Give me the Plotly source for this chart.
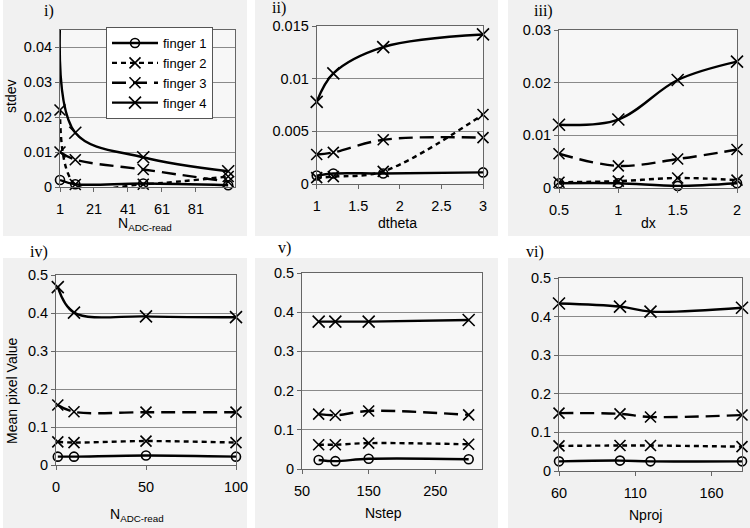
import plotly.graph_objects as go

# ---------------- data ----------------
fingers = ["finger 1", "finger 2", "finger 3", "finger 4"]

# panel i: stdev vs N_ADC-read
n_adc = [1, 10, 50, 100]
i_f1 = [0.0020, 0.0008, 0.0010, 0.0005]
i_f2 = [0.0220, 0.0007, 0.0008, 0.0030]
i_f3 = [0.0100, 0.0078, 0.0050, 0.0015]
i_f4 = [0.0470, 0.0155, 0.0085, 0.0045]

# panel ii: stdev vs dtheta
dtheta = [1, 1.2, 1.8, 3]
ii_f1 = [0.0008, 0.0010, 0.0010, 0.0011]
ii_f2 = [0.0006, 0.0007, 0.0012, 0.0066]
ii_f3 = [0.0028, 0.0030, 0.0042, 0.0044]
ii_f4 = [0.0078, 0.0105, 0.0130, 0.0142]

# panel iii: stdev vs dx
dx = [0.5, 1, 1.5, 2]
iii_f1 = [0.0009, 0.0009, 0.0004, 0.0009]
iii_f2 = [0.0011, 0.0013, 0.0019, 0.0015]
iii_f3 = [0.0065, 0.0042, 0.0055, 0.0073]
iii_f4 = [0.0120, 0.0130, 0.0205, 0.0240]

# panel iv: mean pixel value vs N_ADC-read
iv_f1 = [0.022, 0.022, 0.025, 0.022]
iv_f2 = [0.061, 0.059, 0.063, 0.059]
iv_f3 = [0.158, 0.140, 0.139, 0.139]
iv_f4 = [0.468, 0.401, 0.391, 0.389]

# panel v: mean pixel value vs Nstep
nstep = [75, 100, 150, 300]
v_f1 = [0.023, 0.020, 0.026, 0.025]
v_f2 = [0.062, 0.062, 0.066, 0.063]
v_f3 = [0.140, 0.137, 0.148, 0.138]
v_f4 = [0.376, 0.376, 0.376, 0.380]

# panel vi: mean pixel value vs Nproj
nproj = [60, 100, 120, 180]
vi_f1 = [0.025, 0.027, 0.025, 0.025]
vi_f2 = [0.065, 0.066, 0.066, 0.063]
vi_f3 = [0.150, 0.148, 0.140, 0.145]
vi_f4 = [0.434, 0.426, 0.413, 0.423]

panels = [
    dict(x=n_adc, ys=[i_f1, i_f2, i_f3, i_f4], xr=[1, 104], yr=[0, 0.045], xt=[1, 21, 41, 61, 81], dy=0.01),
    dict(x=dtheta, ys=[ii_f1, ii_f2, ii_f3, ii_f4], xr=[1, 3], yr=[0, 0.015], xt=[1, 1.5, 2, 2.5, 3], dy=0.005),
    dict(x=dx, ys=[iii_f1, iii_f2, iii_f3, iii_f4], xr=[0.5, 2], yr=[0, 0.03], xt=[0.5, 1, 1.5, 2], dy=0.01),
    dict(x=n_adc, ys=[iv_f1, iv_f2, iv_f3, iv_f4], xr=[0, 100], yr=[0, 0.5], xt=[0, 50, 100], dy=0.1),
    dict(x=nstep, ys=[v_f1, v_f2, v_f3, v_f4], xr=[50, 320], yr=[0, 0.5], xt=[50, 150, 250], dy=0.1),
    dict(x=nproj, ys=[vi_f1, vi_f2, vi_f3, vi_f4], xr=[60, 180], yr=[0, 0.5], xt=[60, 110, 160], dy=0.1),
]

# ---------------- layout geometry (pixels) ----------------
W, H = 750, 528
boxes = [  # left, right, top, bottom of each plot area
    (60, 235, 29.5, 187),
    (316.7, 483, 26, 184),
    (559, 737, 30, 188),
    (56, 236, 275, 465),
    (302, 482, 273, 469),
    (559, 742, 278, 471),
]

styles = [
    dict(dash="solid", symbol="circle-open", size=9),
    dict(dash="5px,4px", symbol="x-thin", size=11),
    dict(dash="14px,7px", symbol="x-thin", size=11),
    dict(dash="solid", symbol="x-thin", size=12),
]

fig = go.Figure()
TICKFONT = dict(family="Liberation Sans, Arial, sans-serif", size=14.5, color="black")

for k, p in enumerate(panels):
    ax = "" if k == 0 else str(k + 1)
    for j, yv in enumerate(p["ys"]):
        st = styles[j]
        clip = (k == 0 and j == 3)  # finger 4 in panel i runs off the top
        fig.add_trace(go.Scatter(
            x=p["x"], y=yv, mode="lines+markers", name=fingers[j],
            legendgroup=fingers[j], showlegend=(k == 0),
            xaxis="x" + ax, yaxis="y" + ax,
            line=dict(color="black", width=2.4, dash=st["dash"], shape="spline", smoothing=1),
            marker=dict(symbol=st["symbol"], size=st["size"], color="black",
                        line=dict(color="black", width=1.6)),
            cliponaxis=clip,
        ))
    l, r, t, b = boxes[k]
    fig.layout["xaxis" + ax] = dict(
        domain=[l / W, r / W], range=p["xr"], anchor="y" + ax, automargin=False,
        tickmode="array", tickvals=p["xt"], showgrid=False, zeroline=False,
        showline=True, linecolor="#666", linewidth=1, mirror=True,
        ticks="outside", ticklen=4, tickcolor="#666", tickfont=TICKFONT,
        ticklabelstandoff=5,
    )
    fig.layout["yaxis" + ax] = dict(
        domain=[1 - b / H, 1 - t / H], range=p["yr"], anchor="x" + ax, automargin=False,
        dtick=p["dy"], tick0=0, showgrid=True, gridcolor="#8a8a8a", gridwidth=1,
        zeroline=False, showline=True, linecolor="#666", linewidth=1, mirror=True,
        ticks="outside", ticklen=4, tickcolor="#666", tickfont=TICKFONT,
    )

# white gaps between the light-gray chart areas of the scanned figure
gaps = [(0, 3, 0, 528), (247, 255, 0, 528), (498, 508, 0, 528), (0, 750, 236, 258)]
shapes = []
for (x0, x1, y0, y1) in gaps:
    shapes.append(dict(type="rect", xref="paper", yref="paper", layer="below",
                       x0=x0 / W, x1=x1 / W, y0=1 - y1 / H, y1=1 - y0 / H,
                       fillcolor="white", line=dict(width=0)))

ann = []
def add_text(txt, x, y, size=14, angle=0, family="Liberation Sans, Arial, sans-serif"):
    ann.append(dict(text=txt, x=x / W, y=1 - y / H, xref="paper", yref="paper",
                    showarrow=False, textangle=angle, xanchor="center", yanchor="middle",
                    font=dict(family=family, size=size, color="black")))

SERIF = "Liberation Serif, Times New Roman, serif"
add_text("i)", 49, 11, 16, family=SERIF)
add_text("ii)", 279, 8, 16, family=SERIF)
add_text("iii)", 543, 11, 16, family=SERIF)
add_text("iv)", 39, 252, 16, family=SERIF)
add_text("v)", 284, 248, 16, family=SERIF)
add_text("vi)", 535, 252, 16, family=SERIF)

add_text("N<sub>ADC-read</sub>", 145, 224, 14)
add_text("dtheta", 398, 223, 14)
add_text("dx", 648, 223, 14)
add_text("N<sub>ADC-read</sub>", 137, 515, 14)
add_text("Nstep", 383, 513, 14)
add_text("Nproj", 645, 515, 14)
add_text("stdev", 11, 97, 14, angle=-90)
add_text("Mean pixel Value", 12, 391, 14, angle=-90)

fig.update_layout(
    width=W, height=H, margin=dict(l=0, r=0, t=0, b=0, autoexpand=False),
    paper_bgcolor="#f1f1f1", plot_bgcolor="#f7f7f7",
    showlegend=True,
    legend=dict(x=106 / W, y=1 - 27 / H, xanchor="left", yanchor="top",
                bgcolor="white", bordercolor="#555", borderwidth=1,
                font=dict(family="Liberation Sans, Arial, sans-serif", size=13, color="black"),
                tracegroupgap=0, itemwidth=46),
    shapes=shapes, annotations=ann,
)

fig.write_html("out.html", config={"displayModeBar": False},
               post_script="document.body.style.margin='0';document.body.style.overflow='hidden';")
